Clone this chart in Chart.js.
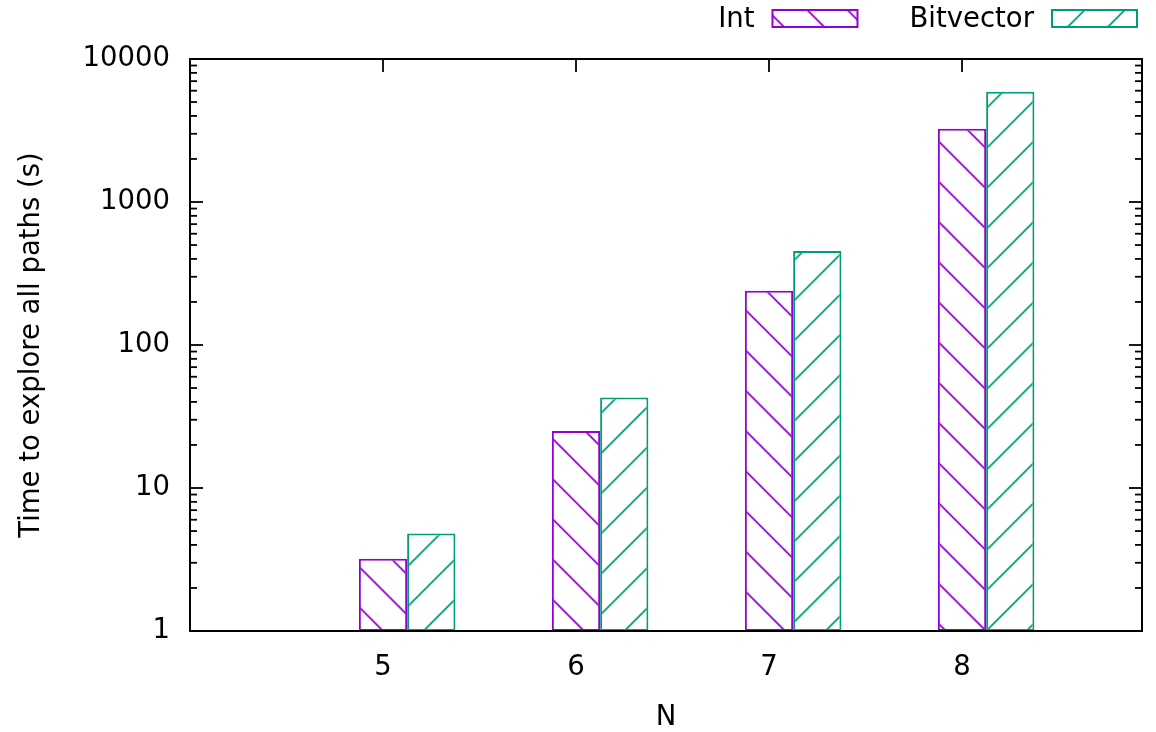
<!DOCTYPE html>
<html>
<head>
<meta charset="utf-8">
<script src="https://cdn.jsdelivr.net/npm/chart.js@4.4.1/dist/chart.umd.min.js"></script>
<style>
  html, body { margin: 0; padding: 0; background: #ffffff; }
  #c { display: block; }
</style>
</head>
<body>
<canvas id="c" width="1156" height="732"></canvas>
<script>
// Exploration time per problem size N, in seconds (log scale)
const categories = [5, 6, 7, 8];
const intTimes = [3.2, 25, 240, 3250];
const bitvectorTimes = [4.8, 43, 455, 5900];
const seriesNames = ['Int', 'Bitvector'];
const yTickLabels = [1, 10, 100, 1000, 10000];
const xTitle = 'N';
const yTitle = 'Time to explore all paths (s)';

const COLORS = ['#9400d3', '#009e73'];
const FONT_FAMILY = '"DejaVu Sans", Verdana, sans-serif';
const FONT_SIZE = 27.5;
const HATCH_STEP = 40.2;

const canvas = document.getElementById('c');
const ctx = canvas.getContext('2d');

// Diagonal hatch fill: dir 1 draws "\" strokes, dir -1 draws "/" strokes.
function makeHatch(color, dir) {
  const reps = 5;
  const size = Math.round(HATCH_STEP * reps);
  const tile = document.createElement('canvas');
  tile.width = tile.height = size;
  const g = tile.getContext('2d');
  g.fillStyle = '#ffffff';
  g.fillRect(0, 0, size, size);
  g.strokeStyle = color;
  g.lineWidth = 1.8;
  g.beginPath();
  for (let k = -reps - 2; k <= 2 * reps + 2; k++) {
    if (dir > 0) {
      g.moveTo(-5, -5 + k * HATCH_STEP);
      g.lineTo(size + 5, size + 5 + k * HATCH_STEP);
    } else {
      g.moveTo(-5, k * HATCH_STEP + 5);
      g.lineTo(size + 5, k * HATCH_STEP - size - 5);
    }
  }
  g.stroke();
  return ctx.createPattern(tile, 'repeat');
}

const hatches = [makeHatch(COLORS[0], 1), makeHatch(COLORS[1], -1)];
const font = { family: FONT_FAMILY, size: FONT_SIZE };

function line(c, x1, y1, x2, y2) {
  c.beginPath();
  c.moveTo(x1, y1);
  c.lineTo(x2, y2);
  c.stroke();
}

// Inward tick marks, the frame around the plot and the key at the top right.
const framePlugin = {
  id: 'frame',
  beforeDatasetsDraw(chart) {
    const c = chart.ctx;
    const xs = chart.scales.x, xt = chart.scales.xt, ys = chart.scales.y;
    const ax = xs.getPixelForValue(categories[categories.length - 1]);
    const ay = ys.bottom;
    hatches.forEach(p => p.setTransform(new DOMMatrix([1, 0, 0, 1, ax, ay])));

    const { left, right, top, bottom } = chart.chartArea;
    c.save();
    c.strokeStyle = '#000000';
    c.lineWidth = 1.8;
    ys.ticks.forEach(t => {
      const y = ys.getPixelForValue(t.value);
      const major = yTickLabels.includes(t.value);
      const len = major ? 13 : 7;
      line(c, left, y, left + len, y);
      line(c, right, y, right - len, y);
    });
    xt.ticks.forEach(t => {
      const x = xt.getPixelForValue(t.value);
      line(c, x, top, x, top + 13);
      line(c, x, bottom, x, bottom - 13);
    });
    c.restore();
  },
  afterDatasetsDraw(chart) {
    const c = chart.ctx;
    const { left, right, top, bottom } = chart.chartArea;
    c.save();
    c.strokeStyle = '#000000';
    c.lineWidth = 2;
    c.strokeRect(left, top, right - left, bottom - top);

    // key
    c.font = FONT_SIZE + 'px ' + FONT_FAMILY;
    c.textAlign = 'right';
    c.textBaseline = 'middle';
    c.fillStyle = '#000000';
    const boxW = 85, boxH = 17, boxTop = 10, gap = 18, itemGap = 52;
    let boxRight = right - 5;
    const sets = chart.data.datasets;
    for (let i = sets.length - 1; i >= 0; i--) {
      const ds = sets[i];
      const boxLeft = boxRight - boxW;
      c.fillStyle = ds.backgroundColor;
      c.fillRect(boxLeft, boxTop, boxW, boxH);
      c.strokeStyle = ds.borderColor;
      c.lineWidth = 2;
      c.strokeRect(boxLeft, boxTop, boxW, boxH);
      c.fillStyle = '#000000';
      c.fillText(ds.label, boxLeft - gap, boxTop + boxH / 2 + 1);
      const w = c.measureText(ds.label).width;
      boxRight = boxLeft - gap - w - itemGap;
    }
    c.restore();
  }
};

const seriesValues = [intTimes, bitvectorTimes];

new Chart(ctx, {
  type: 'bar',
  data: {
    datasets: seriesNames.map((name, s) => ({
      label: name,
      data: categories.map((x, i) => ({ x: x, y: seriesValues[s][i] })),
      backgroundColor: hatches[s],
      borderColor: COLORS[s],
      borderWidth: 2,
      borderSkipped: false,
      categoryPercentage: 0.5,
      barPercentage: 1.0,
      xAxisID: 'x',
      yAxisID: 'y'
    }))
  },
  options: {
    responsive: false,
    animation: false,
    devicePixelRatio: 1,
    layout: { padding: { top: 59, right: 14, bottom: 0, left: 0 } },
    plugins: {
      legend: { display: false },
      tooltip: { enabled: false }
    },
    scales: {
      x: {
        type: 'linear',
        display: false,
        offset: false,
        min: 3.875,
        max: 8.8076,
        ticks: { stepSize: 1, includeBounds: false }
      },
      xt: {
        type: 'linear',
        position: 'bottom',
        offset: false,
        min: 4,
        max: 8.9326,
        afterBuildTicks: s => { s.ticks = categories.map(v => ({ value: v })); },
        grid: { display: false, drawTicks: false },
        border: { display: false },
        ticks: {
          padding: 20,
          font: font,
          color: '#000000',
          autoSkip: false,
          maxRotation: 0,
          callback: v => String(v)
        },
        title: {
          display: true,
          text: xTitle,
          font: { family: FONT_FAMILY, size: FONT_SIZE, lineHeight: 1.0 },
          color: '#000000',
          padding: { top: 0, bottom: 0 }
        },
        afterFit: s => { s.height = 101; s.paddingLeft = 0; s.paddingRight = 0; }
      },
      y: {
        type: 'logarithmic',
        min: 1,
        max: 10000,
        afterBuildTicks: s => {
          const t = [];
          for (let d = 0; d < yTickLabels.length - 1; d++) {
            for (let m = 1; m <= 9; m++) t.push({ value: yTickLabels[d] * m });
          }
          t.push({ value: yTickLabels[yTickLabels.length - 1] });
          s.ticks = t;
        },
        grid: { display: false, drawTicks: false },
        border: { display: false },
        ticks: {
          padding: 20,
          font: font,
          color: '#000000',
          autoSkip: false,
          callback: v => (yTickLabels.includes(v) ? String(v) : '')
        },
        title: {
          display: true,
          text: yTitle,
          font: font,
          color: '#000000',
          padding: { top: 15, bottom: 0 }
        },
        afterFit: s => { s.width = 190; s.paddingTop = 0; s.paddingBottom = 0; }
      }
    }
  },
  plugins: [framePlugin]
});
</script>
</body>
</html>
